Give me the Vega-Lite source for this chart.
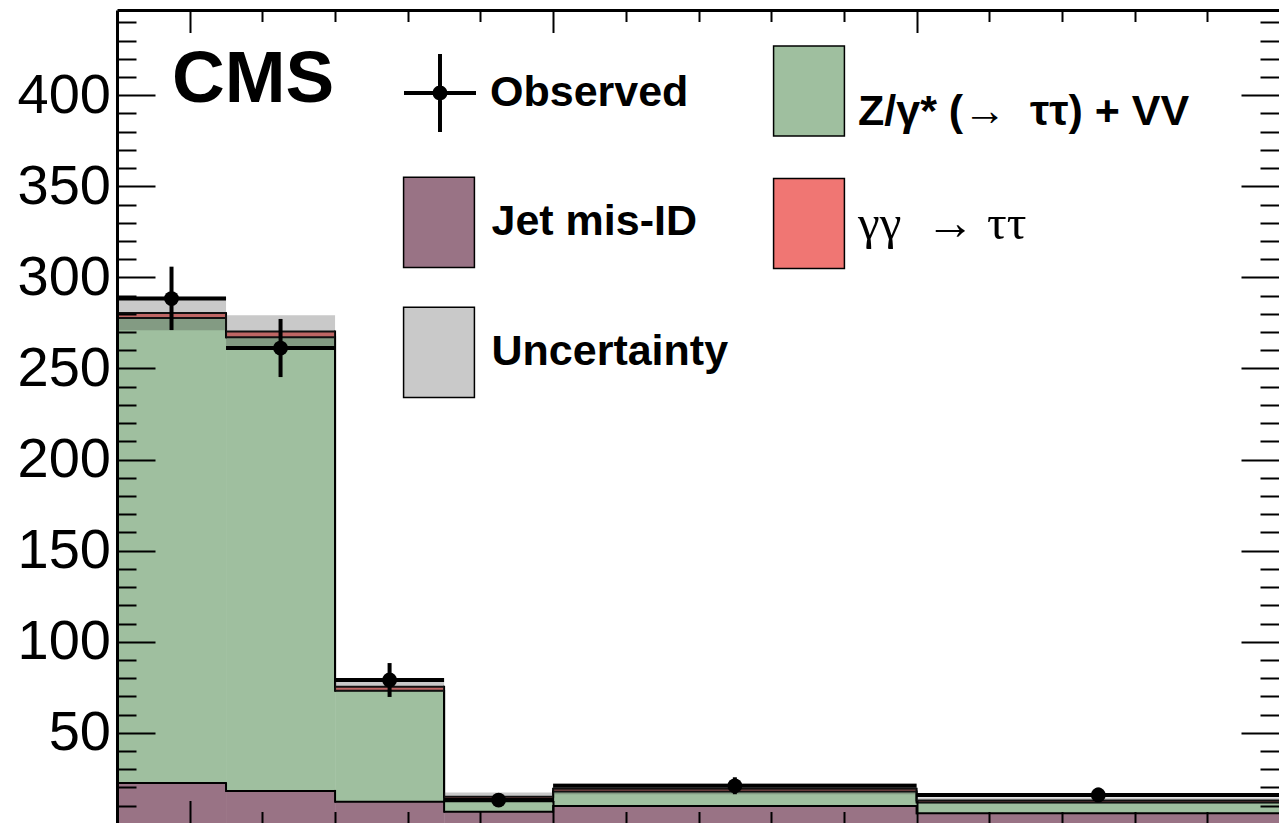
{
  "$schema": "https://vega.github.io/schema/vega-lite/v6.json",
  "width": 1162,
  "height": 813,
  "autosize": {"type": "none"},
  "padding": {"left": 117, "top": 10, "right": 0, "bottom": 0},
  "background": "white",
  "config": {
    "view": {"stroke": null},
    "legend": {"padding": 0, "labelFont": "Liberation Sans", "labelFontWeight": "bold", "labelFontSize": 43, "labelColor": "black", "labelLimit": 1000, "symbolStrokeColor": "black", "symbolStrokeWidth": 1.5}
  },
  "title": {"text": "CMS", "anchor": "start", "frame": "group", "orient": "top", "offset": 0, "dx": 55, "dy": 181, "baseline": "alphabetic", "font": "Liberation Sans", "fontWeight": "bold", "fontSize": 73, "color": "black"},
  "datasets": {
    "stack": [
      {"lo": -1, "hi": 0.5, "process": "Jet mis-ID", "n": 22.4},
      {"lo": -1, "hi": 0.5, "process": "Z/γ* (→ ττ) + VV", "n": 255.3},
      {"lo": -1, "hi": 0.5, "process": "γγ → ττ", "n": 2.7},
      {"lo": 0.5, "hi": 2, "process": "Jet mis-ID", "n": 18.1},
      {"lo": 0.5, "hi": 2, "process": "Z/γ* (→ ττ) + VV", "n": 249.0},
      {"lo": 0.5, "hi": 2, "process": "γγ → ττ", "n": 3.2},
      {"lo": 2, "hi": 3.5, "process": "Jet mis-ID", "n": 12.2},
      {"lo": 2, "hi": 3.5, "process": "Z/γ* (→ ττ) + VV", "n": 60.9},
      {"lo": 2, "hi": 3.5, "process": "γγ → ττ", "n": 2.2},
      {"lo": 3.5, "hi": 5, "process": "Jet mis-ID", "n": 6.7},
      {"lo": 3.5, "hi": 5, "process": "Z/γ* (→ ττ) + VV", "n": 5.7},
      {"lo": 3.5, "hi": 5, "process": "γγ → ττ", "n": 2.5},
      {"lo": 5, "hi": 10, "process": "Jet mis-ID", "n": 9.8},
      {"lo": 5, "hi": 10, "process": "Z/γ* (→ ττ) + VV", "n": 8.0},
      {"lo": 5, "hi": 10, "process": "γγ → ττ", "n": 1.5},
      {"lo": 10, "hi": 15, "process": "Jet mis-ID", "n": 5.8},
      {"lo": 10, "hi": 15, "process": "Z/γ* (→ ττ) + VV", "n": 6.0},
      {"lo": 10, "hi": 15, "process": "γγ → ττ", "n": 1.1}
    ],
    "band": [
      {"lo": -1, "hi": 0.5, "low": 271.0, "high": 289.4},
      {"lo": 0.5, "hi": 2, "low": 262.3, "high": 279.3},
      {"lo": 2, "hi": 3.5, "low": 72.6, "high": 78.0},
      {"lo": 3.5, "hi": 5, "low": 12.5, "high": 17.3},
      {"lo": 5, "hi": 10, "low": 16.3, "high": 22.3},
      {"lo": 10, "hi": 15, "low": 11.4, "high": 14.5}
    ],
    "obs": [
      {"lo": -1, "hi": 0.5, "mid": -0.25, "n": 288.4, "elo": 271.1, "ehi": 305.9},
      {"lo": 0.5, "hi": 2, "mid": 1.25, "n": 261.2, "elo": 245.3, "ehi": 277.2},
      {"lo": 2, "hi": 3.5, "mid": 2.75, "n": 79.0, "elo": 69.7, "ehi": 88.3},
      {"lo": 3.5, "hi": 5, "mid": 4.25, "n": 13.1, "elo": 9.5, "ehi": 16.7},
      {"lo": 5, "hi": 10, "mid": 7.5, "n": 20.9, "elo": 16.3, "ehi": 25.6},
      {"lo": 10, "hi": 15, "mid": 12.5, "n": 15.9, "elo": 11.9, "ehi": 19.9}
    ]
  },
  "layer": [
    {
      "data": {"name": "stack"},
      "transform": [
        {"stack": "n", "groupby": ["lo"], "sort": [{"field": "process", "order": "ascending"}], "as": ["y0", "y1"]},
        {"filter": "datum.process === 'Jet mis-ID'"}
      ],
      "mark": {"type": "rect", "clip": true},
      "encoding": {
        "x": {"field": "lo", "type": "quantitative", "scale": {"domain": [-1, 14.986], "nice": false, "zero": false},
          "axis": {"orient": "bottom", "values": [0,1,2,3,4,5,6,7,8,9,10,11,12,13,14], "title": null, "grid": false, "domain": false, "ticks": true, "tickColor": "black", "tickWidth": 2, "tickSize": {"condition": {"test": "datum.value % 5 === 0", "value": -22.5}, "value": -11.5}, "labels": false, "zindex": 1}},
        "x2": {"field": "hi"},
        "y": {"field": "y1", "type": "quantitative", "scale": {"domain": [0.5, 446.8], "nice": false, "zero": false},
          "axis": {"orient": "left", "values": [10,20,30,40,50,60,70,80,90,100,110,120,130,140,150,160,170,180,190,200,210,220,230,240,250,260,270,280,290,300,310,320,330,340,350,360,370,380,390,400,410,420,430,440], "title": null, "grid": false, "domain": true, "domainColor": "black", "domainWidth": 3, "ticks": true, "tickColor": "black", "tickWidth": 2, "tickSize": {"condition": {"test": "datum.value % 50 === 0", "value": -38}, "value": -19}, "labels": true, "labelExpr": "datum.value % 50 === 0 ? datum.label : ''", "labelFont": "Liberation Sans", "labelFontSize": 56, "labelColor": "black", "labelPadding": 44.5, "labelOverlap": false, "labelFlush": false, "labelAlign": "right", "labelBaseline": "middle", "zindex": 1}},
        "y2": {"field": "y0"},
        "color": {"field": "process", "type": "nominal",
          "scale": {"domain": ["Jet mis-ID", "Uncertainty"], "range": ["#997385", "rgba(60,60,60,0.28)"]},
          "legend": {"orient": "none", "legendX": 275, "legendY": 165.4, "title": null, "direction": "vertical", "symbolType": "M-0.77,-0.98H0.77V0.98H-0.77Z", "symbolSize": 8464, "symbolStrokeColor": "black", "symbolStrokeWidth": 1.5, "rowPadding": 32, "labelOffset": 5.5, "labelBaseline": "middle"}}
      }
    },
    {
      "data": {"name": "stack"},
      "transform": [
        {"stack": "n", "groupby": ["lo"], "sort": [{"field": "process", "order": "ascending"}], "as": ["y0", "y1"]},
        {"filter": "datum.process === 'Z/γ* (→ ττ) + VV'"}
      ],
      "mark": {"type": "rect", "clip": true},
      "encoding": {
        "x": {"field": "lo", "type": "quantitative", "scale": {"domain": [-1, 14.986], "nice": false, "zero": false},
          "axis": {"orient": "top", "values": [0,1,2,3,4,5,6,7,8,9,10,11,12,13,14], "title": null, "grid": false, "domain": true, "domainColor": "black", "domainWidth": 3, "ticks": true, "tickColor": "black", "tickWidth": 2, "tickSize": {"condition": {"test": "datum.value % 5 === 0", "value": -22.5}, "value": -11.5}, "labels": false, "zindex": 1}},
        "x2": {"field": "hi"},
        "y": {"field": "y1", "type": "quantitative", "scale": {"domain": [0.5, 446.8], "nice": false, "zero": false},
          "axis": {"orient": "right", "values": [10,20,30,40,50,60,70,80,90,100,110,120,130,140,150,160,170,180,190,200,210,220,230,240,250,260,270,280,290,300,310,320,330,340,350,360,370,380,390,400,410,420,430,440], "title": null, "grid": false, "domain": false, "ticks": true, "tickColor": "black", "tickWidth": 2, "tickSize": {"condition": {"test": "datum.value % 50 === 0", "value": -38}, "value": -19}, "labels": false, "zindex": 1}},
        "y2": {"field": "y0"},
        "color": {"field": "process", "type": "nominal",
          "scale": {"domain": ["Z/γ* (→ ττ) + VV"], "range": ["#9fbf9f"]},
          "legend": {"orient": "none", "legendX": 645, "legendY": 34, "title": null, "direction": "vertical", "symbolType": "M-0.77,-0.98H0.77V0.98H-0.77Z", "symbolSize": 8464, "symbolStrokeColor": "black", "symbolStrokeWidth": 1.5, "labelOffset": 2, "labelBaseline": "top", "labelExpr": "'Z/γ* (→\u00a0 ττ) + VV'"}}
      }
    },
    {
      "data": {"name": "stack"},
      "transform": [
        {"stack": "n", "groupby": ["lo"], "sort": [{"field": "process", "order": "ascending"}], "as": ["y0", "y1"]},
        {"filter": "datum.process === 'γγ → ττ'"}
      ],
      "mark": {"type": "rect", "clip": true},
      "encoding": {
        "x": {"field": "lo", "type": "quantitative", "scale": {"domain": [-1, 14.986], "nice": false, "zero": false}, "axis": null},
        "x2": {"field": "hi"},
        "y": {"field": "y1", "type": "quantitative", "scale": {"domain": [0.5, 446.8], "nice": false, "zero": false}, "axis": null},
        "y2": {"field": "y0"},
        "color": {"field": "process", "type": "nominal",
          "scale": {"domain": ["γγ → ττ"], "range": ["#f07673"]},
          "legend": {"orient": "none", "legendX": 645, "legendY": 166.5, "title": null, "direction": "vertical", "symbolType": "M-0.77,-0.98H0.77V0.98H-0.77Z", "symbolSize": 8464, "symbolStrokeColor": "black", "symbolStrokeWidth": 1.5, "labelOffset": 2, "labelBaseline": "middle", "labelFont": "Liberation Serif", "labelFontWeight": "normal", "labelFontSize": 49, "labelExpr": "'γγ\u00a0 → ττ'"}}
      }
    },
    {
      "data": {"name": "stack"},
      "transform": [
        {"stack": "n", "groupby": ["lo"], "sort": [{"field": "process", "order": "ascending"}], "as": ["y0", "y1"]}
      ],
      "mark": {"type": "rule", "clip": true, "color": "black", "strokeWidth": 2},
      "encoding": {
        "x": {"field": "lo", "type": "quantitative", "scale": {"domain": [-1, 14.986], "nice": false, "zero": false}, "axis": null},
        "x2": {"field": "hi"},
        "y": {"field": "y1", "type": "quantitative", "scale": {"domain": [0.5, 446.8], "nice": false, "zero": false}, "axis": null}
      }
    },
    {
      "data": {"name": "stack"},
      "transform": [
        {"stack": "n", "groupby": ["lo"], "sort": [{"field": "process", "order": "ascending"}], "as": ["y0", "y1"]},
        {"window": [{"op": "lead", "field": "y1", "as": "y1next"}], "groupby": ["process"], "sort": [{"field": "lo", "order": "ascending"}]},
        {"filter": "isValid(datum.y1next)"}
      ],
      "mark": {"type": "rule", "clip": true, "color": "black", "strokeWidth": 2, "strokeCap": "square"},
      "encoding": {
        "x": {"field": "hi", "type": "quantitative", "scale": {"domain": [-1, 14.986], "nice": false, "zero": false}, "axis": null},
        "y": {"field": "y1", "type": "quantitative", "scale": {"domain": [0.5, 446.8], "nice": false, "zero": false}, "axis": null},
        "y2": {"field": "y1next"}
      }
    },
    {
      "data": {"name": "band"},
      "mark": {"type": "rect", "clip": true, "fill": "rgba(60,60,60,0.28)"},
      "encoding": {
        "x": {"field": "lo", "type": "quantitative", "scale": {"domain": [-1, 14.986], "nice": false, "zero": false}, "axis": null},
        "x2": {"field": "hi"},
        "y": {"field": "low", "type": "quantitative", "scale": {"domain": [0.5, 446.8], "nice": false, "zero": false}, "axis": null},
        "y2": {"field": "high"}
      }
    },
    {
      "data": {"name": "obs"},
      "mark": {"type": "rule", "clip": true, "color": "black", "strokeWidth": 4},
      "encoding": {
        "x": {"field": "lo", "type": "quantitative", "scale": {"domain": [-1, 14.986], "nice": false, "zero": false}, "axis": null},
        "x2": {"field": "hi"},
        "y": {"field": "n", "type": "quantitative", "scale": {"domain": [0.5, 446.8], "nice": false, "zero": false}, "axis": null}
      }
    },
    {
      "data": {"name": "obs"},
      "mark": {"type": "rule", "clip": true, "color": "black", "strokeWidth": 4},
      "encoding": {
        "x": {"field": "mid", "type": "quantitative", "scale": {"domain": [-1, 14.986], "nice": false, "zero": false}, "axis": null},
        "y": {"field": "elo", "type": "quantitative", "scale": {"domain": [0.5, 446.8], "nice": false, "zero": false}, "axis": null},
        "y2": {"field": "ehi"}
      }
    },
    {
      "data": {"name": "obs"},
      "mark": {"type": "point", "filled": true, "size": 220, "opacity": 1, "strokeWidth": 0},
      "encoding": {
        "x": {"field": "mid", "type": "quantitative", "scale": {"domain": [-1, 14.986], "nice": false, "zero": false}, "axis": null},
        "y": {"field": "n", "type": "quantitative", "scale": {"domain": [0.5, 446.8], "nice": false, "zero": false}, "axis": null},
        "color": {"datum": "Observed", "type": "nominal", "scale": {"range": ["black"]},
          "legend": {"orient": "none", "legendX": 284, "legendY": 44, "title": null, "direction": "vertical", "symbolType": "M-0.923,-0.051H0.923V0.051H-0.923Z M-0.051,-1H0.051V1H-0.051Z M-0.19,0A0.19,0.19,0,1,1,0.19,0A0.19,0.19,0,1,1,-0.19,0Z", "symbolSize": 6084, "symbolStrokeWidth": 0, "symbolFillColor": "black", "labelOffset": 11, "labelBaseline": "middle"}}
      }
    }
  ],
  "resolve": {
    "scale": {"color": "independent"},
    "legend": {"color": "independent"},
    "axis": {"x": "independent", "y": "independent"}
  }
}
